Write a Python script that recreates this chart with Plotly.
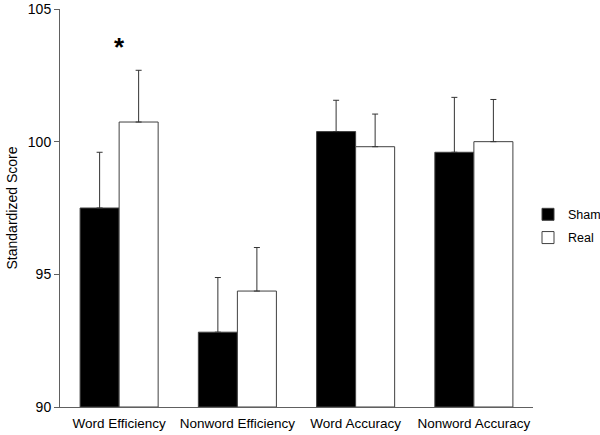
import plotly.graph_objects as go

categories = ["Word Efficiency", "Nonword Efficiency", "Word Accuracy", "Nonword Accuracy"]
sham = [97.5, 92.82, 100.38, 99.6]
real = [100.74, 94.37, 99.81, 100.0]
sham_err = [2.1, 2.06, 1.18, 2.07]
real_err = [1.95, 1.64, 1.23, 1.59]
y_ticks = [90, 95, 100, 105]

font_family = "Liberation Sans, Arial, sans-serif"

fig = go.Figure()
fig.add_trace(go.Bar(
    name="Sham", x=categories, y=[v - 90 for v in sham], base=90,
    legendgroup="g1",
    marker=dict(color="black", line=dict(color="#404040", width=1)),
    error_y=dict(type="data", symmetric=False, array=sham_err, arrayminus=[0] * 4,
                 color="#333333", thickness=1, width=3),
))
fig.add_trace(go.Bar(
    name="Real", x=categories, y=[v - 90 for v in real], base=90,
    legendgroup="g2",
    marker=dict(color="white", line=dict(color="#404040", width=1)),
    error_y=dict(type="data", symmetric=False, array=real_err, arrayminus=[0] * 4,
                 color="#333333", thickness=1, width=3),
))

fig.add_annotation(x=categories[0], y=103.55, text="<b>*</b>", showarrow=False,
                   font=dict(size=26, color="black", family=font_family))

fig.update_layout(
    width=600, height=435,
    margin=dict(l=60, r=67, t=9, b=28, autoexpand=False),
    paper_bgcolor="white", plot_bgcolor="white",
    barmode="group", bargap=0.34, bargroupgap=0,
    font=dict(family=font_family, size=13.5, color="black"),
    showlegend=True,
    legend=dict(xref="container", yref="container", x=0.88, y=0.48,
                xanchor="left", yanchor="middle", traceorder="grouped",
                font=dict(size=12.5), itemwidth=30, tracegroupgap=4,
                bgcolor="rgba(0,0,0,0)"),
    xaxis=dict(showline=True, linecolor="#606060", linewidth=1, ticks="",
               tickfont=dict(size=13.5), showgrid=False, range=[-0.5, 3.5],
               automargin=False, ticklabelstandoff=4),
    yaxis=dict(range=[90, 105], tickvals=y_ticks, showline=True, linecolor="#606060",
               linewidth=1, ticks="outside", ticklen=5, tickcolor="#606060",
               showgrid=False, zeroline=False, tickfont=dict(size=14), automargin=False,
               title=dict(text="Standardized Score", font=dict(size=14), standoff=6)),
)

fig.write_html("out.html", config={"displayModeBar": False},
               post_script="document.body.style.margin='0';")
